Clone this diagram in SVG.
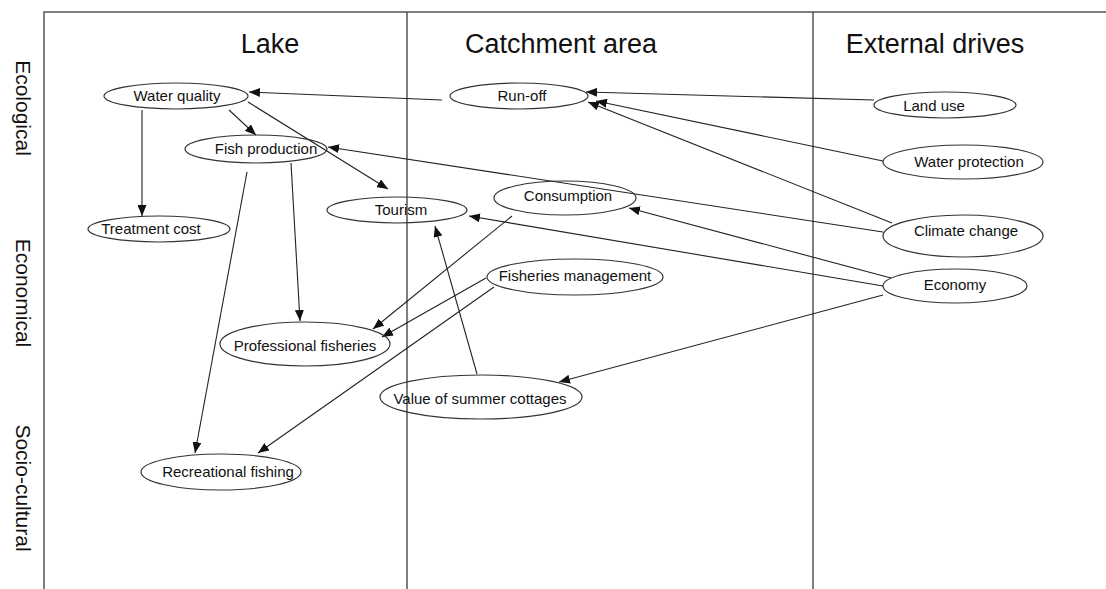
<svg xmlns="http://www.w3.org/2000/svg" width="1106" height="589" viewBox="0 0 1106 589">
<style>
.frame{stroke:#555;stroke-width:1.5;fill:none}
.hdr{font-family:"Liberation Sans",Arial,sans-serif;font-size:27px;fill:#111;text-anchor:middle}
.row{font-family:"Liberation Sans",Arial,sans-serif;font-size:21px;fill:#111;text-anchor:middle}
.node ellipse{fill:none;stroke:#333;stroke-width:1.2}
.node text{font-family:"Liberation Sans",Arial,sans-serif;font-size:15px;fill:#111;text-anchor:middle}
.edge{stroke:#222;stroke-width:1.1;fill:none;marker-end:url(#arr)}
</style>
<defs>
<marker id="arr" markerUnits="userSpaceOnUse" markerWidth="11" markerHeight="9" refX="11" refY="4.5" orient="auto">
<path d="M0,0 L11,4.5 L0,9 z" fill="#111"/>
</marker>
</defs>
<rect width="1106" height="589" fill="#fff"/>
<g id="frame">
<path class="frame" d="M44,589 V12 H1106 M407,12 V589 M813,12 V589"/>
<text class="hdr" x="270" y="53">Lake</text>
<text class="hdr" x="561" y="53">Catchment area</text>
<text class="hdr" x="935" y="53">External drives</text>
<text class="row" transform="translate(16,108) rotate(90)">Ecological</text>
<text class="row" transform="translate(16,293) rotate(90)">Economical</text>
<text class="row" transform="translate(16,488) rotate(90)">Socio-cultural</text>
</g>
<g id="connectors">
<line class="edge" x1="442" y1="100" x2="249" y2="92"/>
<line class="edge" x1="874" y1="100" x2="586" y2="92"/>
<line class="edge" x1="883" y1="161" x2="596" y2="101"/>
<line class="edge" x1="892" y1="223" x2="588" y2="102"/>
<line class="edge" x1="883" y1="232" x2="328" y2="147"/>
<line class="edge" x1="891" y1="278" x2="629" y2="208"/>
<line class="edge" x1="883" y1="286" x2="469" y2="216"/>
<line class="edge" x1="883" y1="295" x2="559" y2="382"/>
<line class="edge" x1="229" y1="110" x2="256" y2="135"/>
<line class="edge" x1="248" y1="102" x2="388" y2="189"/>
<line class="edge" x1="142" y1="110" x2="142" y2="216"/>
<line class="edge" x1="247" y1="172" x2="195" y2="453"/>
<line class="edge" x1="291" y1="163" x2="300" y2="321"/>
<line class="edge" x1="512" y1="216" x2="373" y2="329"/>
<line class="edge" x1="486" y1="278" x2="382" y2="337"/>
<line class="edge" x1="494" y1="287" x2="258" y2="453"/>
<line class="edge" x1="477" y1="374" x2="435" y2="226"/>
</g>
<g id="water-quality" class="node"><ellipse cx="176" cy="96" rx="72" ry="13"/><text x="177" y="101">Water quality</text></g>
<g id="fish-production" class="node"><ellipse cx="256" cy="149" rx="71" ry="14"/><text x="266" y="154">Fish production</text></g>
<g id="treatment-cost" class="node"><ellipse cx="159" cy="229" rx="71" ry="13"/><text x="151" y="234">Treatment cost</text></g>
<g id="tourism" class="node"><ellipse cx="397" cy="210" rx="70" ry="13"/><text x="401" y="215">Tourism</text></g>
<g id="consumption" class="node"><ellipse cx="565" cy="198" rx="71" ry="17"/><text x="568" y="201">Consumption</text></g>
<g id="run-off" class="node"><ellipse cx="519" cy="96" rx="69" ry="13"/><text x="522" y="101">Run-off</text></g>
<g id="land-use" class="node"><ellipse cx="945" cy="105" rx="71" ry="13"/><text x="934" y="111">Land use</text></g>
<g id="water-protection" class="node"><ellipse cx="963" cy="162" rx="80" ry="17"/><text x="969" y="167">Water protection</text></g>
<g id="climate-change" class="node"><ellipse cx="963" cy="236" rx="80" ry="21"/><text x="966" y="236">Climate change</text></g>
<g id="economy" class="node"><ellipse cx="955" cy="286" rx="72" ry="17"/><text x="955" y="290">Economy</text></g>
<g id="fisheries-management" class="node"><ellipse cx="575" cy="277" rx="88" ry="18"/><text x="575" y="281">Fisheries management</text></g>
<g id="professional-fisheries" class="node"><ellipse cx="305" cy="344" rx="85" ry="22"/><text x="305" y="351">Professional fisheries</text></g>
<g id="value-summer-cottages" class="node"><ellipse cx="481" cy="397" rx="101" ry="22"/><text x="480" y="404">Value of summer cottages</text></g>
<g id="recreational-fishing" class="node"><ellipse cx="221" cy="472" rx="80" ry="18"/><text x="228" y="477">Recreational fishing</text></g>
</svg>
